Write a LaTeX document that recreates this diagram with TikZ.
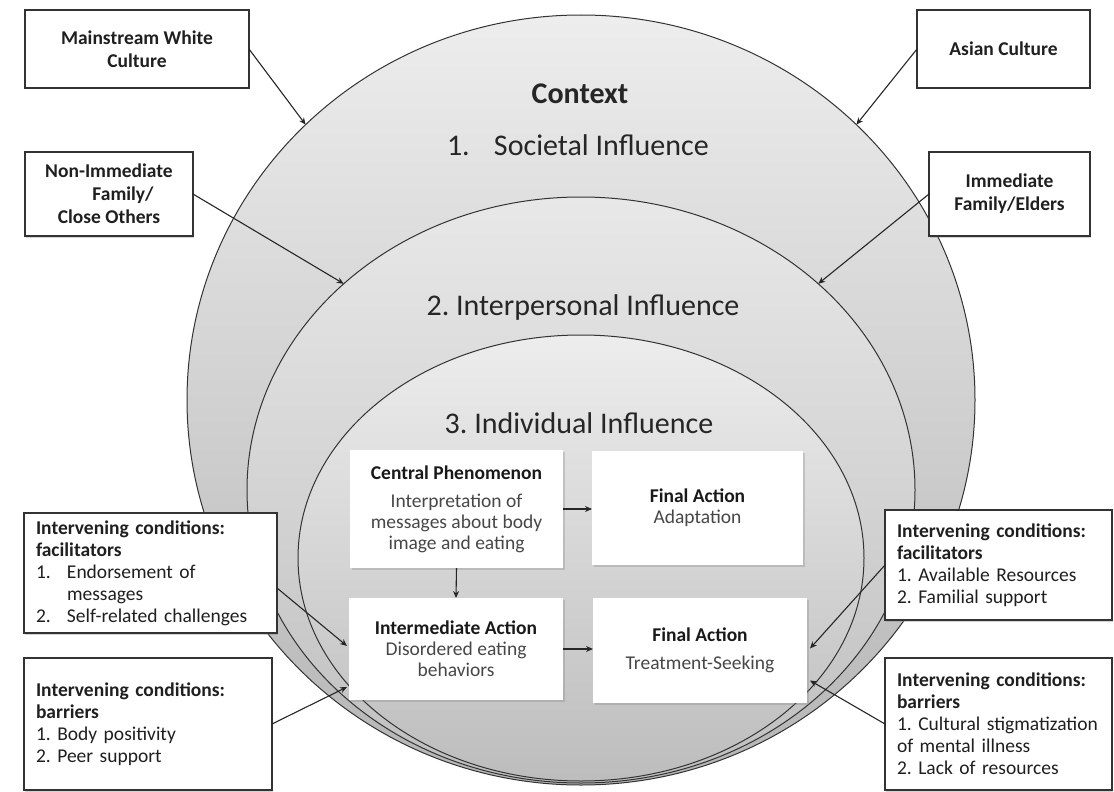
\documentclass[tikz,border=0pt]{standalone}
\usepackage{fontspec}
\setmainfont{Carlito}
\usetikzlibrary{shapes.geometric,arrows.meta,shadows,calc}
\frenchspacing

\begin{document}
\begin{tikzpicture}[x=1pt,y=-1pt,
  every node/.style={inner sep=0pt, outer sep=0pt},
  ring/.style={ellipse, draw=black!80, line width=1pt},
  tag/.style={draw=black!80, line width=1.2pt, fill=white,
    drop shadow={shadow xshift=1pt, shadow yshift=-1.5pt, opacity=0.35},
    font=\fontsize{19.5}{22}\selectfont, text=black!88},
  tagc/.style={tag, align=center, font=\fontsize{19.5}{23}\selectfont\bfseries},
  tagl/.style={tag, align=left, inner xsep=12pt},
  card/.style={fill=white, align=center,
    drop shadow={shadow xshift=1.5pt, shadow yshift=-2pt, opacity=0.3},
    font=\fontsize{19.5}{21}\selectfont, text=black!72},
  arr/.style={-{Stealth[length=7pt,width=6pt]}, line width=1.1pt, draw=black!85},
  title/.style={font=\fontsize{30}{34}\selectfont, text=black!85, anchor=base}
]
\useasboundingbox (0,0) rectangle (1114,792);

% nested spheres of influence
\node[ring, minimum width=788pt, minimum height=770pt,
      top color=gray!14, bottom color=gray!58] (outer) at (581,400) {};
\node[ring, minimum width=668pt, minimum height=586pt,
      top color=gray!18, bottom color=gray!50] (mid) at (581,490) {};
\node[ring, minimum width=566pt, minimum height=446pt,
      top color=gray!14, bottom color=gray!52] (inner) at (581,558) {};

% level titles
\node[title, font=\fontsize{30}{34}\selectfont\bfseries] (ctx) at (580,103) {Context};
\node[title, anchor=base west] (soc) at (447,155) {\makebox[47pt][l]{1.}Societal Influence};
\node[title] (ipi) at (583,315) {2. Interpersonal Influence};
\node[title] (ind) at (579,433) {3. Individual Influence};

% outside sources of influence
\node[tagc, minimum width=224pt, minimum height=78pt] (mwc) at (137,49) {Mainstream White\\Culture};
\node[tagc, minimum width=168pt, minimum height=84pt] (nif) at (109,194) {Non-Immediate\\\hspace*{28pt}Family/\\Close Others};
\node[tagc, minimum width=173pt, minimum height=78pt] (asian) at (1003.5,49) {Asian Culture};
\node[tagc, minimum width=161pt, minimum height=84pt] (imf) at (1009.5,194) {Immediate\\Family/Elders};

% intervening conditions
\node[tagl, minimum width=253pt, minimum height=120pt, text width=229pt] (lfac) at (150.5,573)
  {\textbf{Intervening conditions:}\\ \textbf{facilitators}\\
   \makebox[31pt][l]{1.}Endorsement of\\ \hspace*{31pt}messages\\
   \makebox[31pt][l]{2.}Self-related challenges};
\node[tagl, minimum width=248pt, minimum height=132pt, text width=224pt] (lbar) at (148,724)
  {\textbf{Intervening conditions:}\\ \textbf{barriers}\\ 1. Body positivity\\ 2. Peer support};
\node[tagl, minimum width=227pt, minimum height=110pt, text width=203pt] (rfac) at (998.5,565)
  {\textbf{Intervening conditions:}\\ \textbf{facilitators}\\ 1. Available Resources\\ 2. Familial support};
\node[tagl, minimum width=227pt, minimum height=132pt, text width=203pt] (rbar) at (998.5,724)
  {\textbf{Intervening conditions:}\\ \textbf{barriers}\\ \mbox{1. Cultural stigmatization}\\ of mental illness\\ 2. Lack of resources};

% individual-level process
\node[card, minimum width=213pt, minimum height=118pt] (cent) at (456.5,509)
  {\textcolor{black!90}{\textbf{Central Phenomenon}}\\[7pt] Interpretation of\\ messages about body\\ image and eating};
\node[card, minimum width=211pt, minimum height=114pt] (adapt) at (697.5,508)
  {\textcolor{black!90}{\textbf{Final Action}}\\ Adaptation};
\node[card, minimum width=214pt, minimum height=102pt] (inter) at (456,649)
  {\textcolor{black!90}{\textbf{Intermediate Action}}\\ Disordered eating\\ behaviors};
\node[card, minimum width=214pt, minimum height=105pt] (treat) at (700,650.5)
  {\textcolor{black!90}{\textbf{Final Action}}\\[7pt] Treatment-Seeking};

% connectors
\draw[arr] (mwc.east) -- (outer.135);
\draw[arr] (asian.west) -- (outer.45);
\draw[arr] (nif.east) -- (mid.139);
\draw[arr] (imf.west) -- (mid.41);
\draw[arr] ($(lfac.east)+(0,15)$) -- ($(inter.west)+(-2,-3)$);
\draw[arr] (lbar.east) -- ($(inter.west)+(-2,38)$);
\draw[arr] (rfac.west) -- ($(treat.east)+(3,-2)$);
\draw[arr] (rbar.west) -- ($(treat.east)+(3,30)$);
\draw[arr] (cent.east) -- (cent.east -| adapt.west);
\draw[arr] (cent.south) -- (inter.north);
\draw[arr] (inter.east) -- (inter.east -| treat.west);
\end{tikzpicture}
\end{document}
